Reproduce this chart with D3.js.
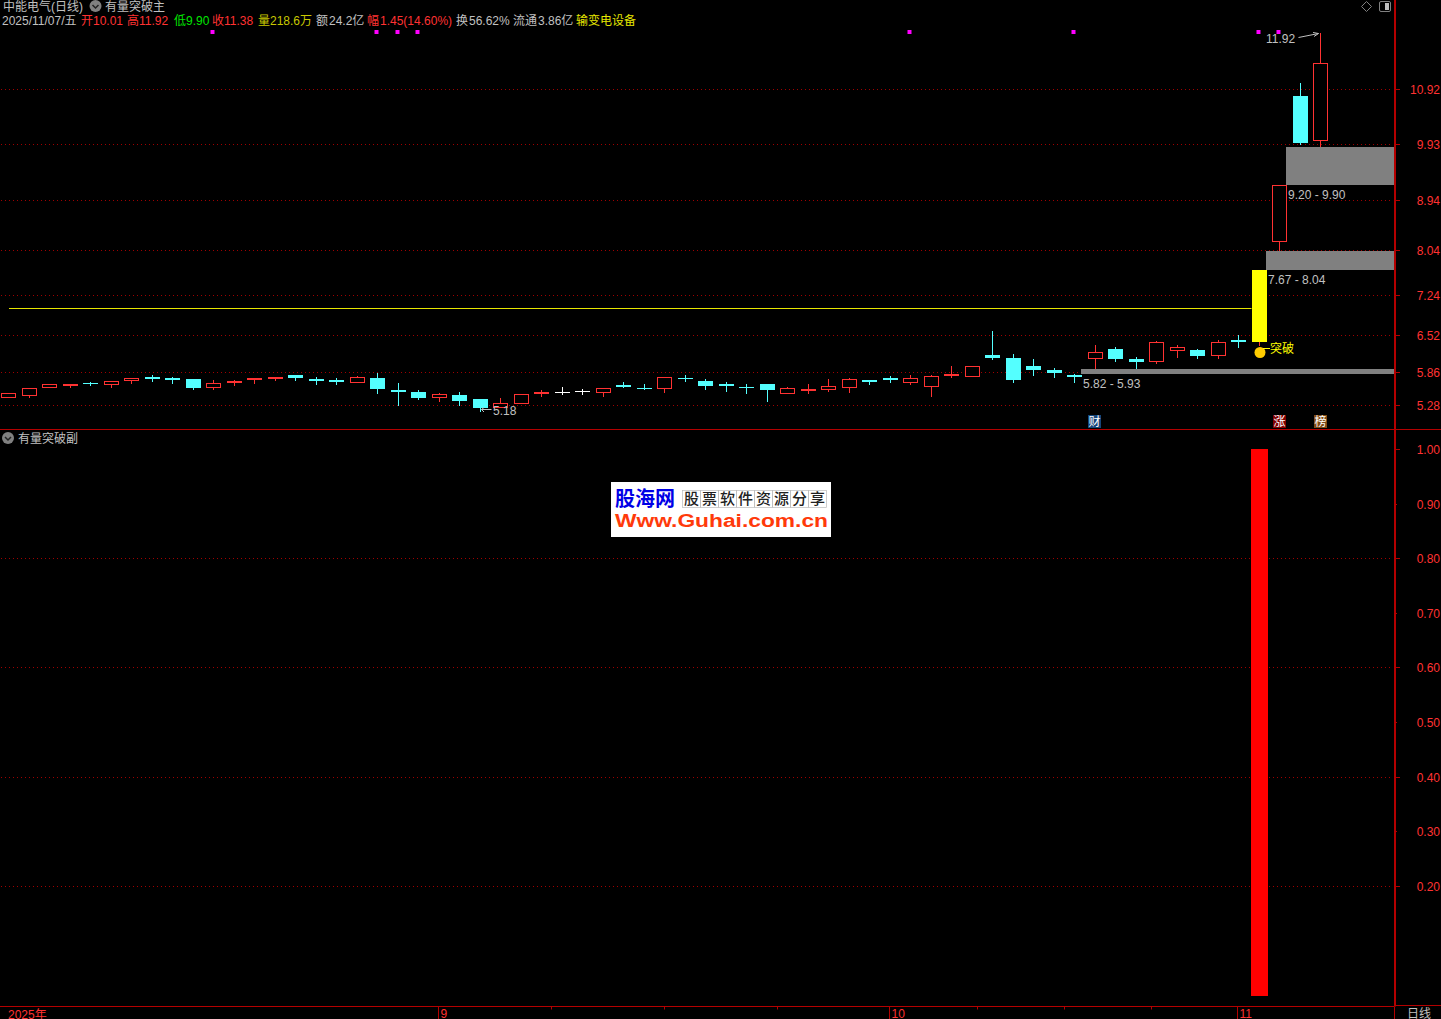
<!DOCTYPE html>
<html>
<head>
<meta charset="utf-8">
<title>中能电气(日线)</title>
<script src="https://cdn.jsdelivr.net/npm/d3@7"></script>
<style>
  html, body { margin: 0; padding: 0; background: #000; overflow: hidden; }
  text { font-family: "Liberation Sans", "Noto Sans CJK SC", sans-serif; font-size: 12px; }
</style>
</head>
<body>
<div id="chart"></div>
<script>
// 日线 K 线,价格读自图上
const opens = [5.42,5.46,5.60,5.64,5.67,5.66,5.73,5.78,5.76,5.75,5.60,5.69,5.75,5.76,5.82,5.75,5.73,5.69,5.76,5.55,5.51,5.42,5.46,5.39,5.25,5.32,5.49,5.51,5.53,5.51,5.64,5.58,5.58,5.76,5.71,5.66,5.60,5.66,5.49,5.55,5.57,5.60,5.73,5.76,5.69,5.62,5.82,5.80,6.17,6.12,5.98,5.91,5.82,6.12,6.28,6.10,6.07,6.26,6.26,6.17,6.44,6.42,8.20,10.80,10.01];
const highs = [5.49,5.58,5.66,5.66,5.69,5.71,5.76,5.82,5.78,5.75,5.73,5.73,5.76,5.78,5.82,5.78,5.76,5.80,5.85,5.67,5.55,5.49,5.51,5.39,5.41,5.48,5.55,5.60,5.57,5.58,5.69,5.66,5.78,5.82,5.75,5.69,5.66,5.66,5.60,5.66,5.75,5.76,5.73,5.80,5.82,5.82,5.98,5.98,6.59,6.19,6.09,5.94,5.83,6.35,6.32,6.14,6.42,6.34,6.28,6.44,6.53,7.69,9.20,11.02,11.92];
const lows = [5.42,5.42,5.60,5.60,5.64,5.60,5.67,5.71,5.67,5.57,5.57,5.64,5.67,5.73,5.73,5.66,5.66,5.69,5.49,5.28,5.39,5.35,5.28,5.18,5.25,5.32,5.44,5.48,5.48,5.44,5.60,5.57,5.51,5.71,5.57,5.53,5.49,5.35,5.49,5.49,5.53,5.51,5.66,5.69,5.66,5.44,5.78,5.80,6.09,5.69,5.82,5.78,5.69,5.94,6.07,5.94,6.03,6.14,6.12,6.12,6.32,6.35,8.04,9.93,9.90];
const closes = [5.49,5.58,5.66,5.66,5.66,5.71,5.76,5.75,5.73,5.58,5.67,5.71,5.76,5.78,5.76,5.71,5.69,5.78,5.57,5.51,5.41,5.48,5.35,5.23,5.32,5.48,5.51,5.51,5.53,5.58,5.60,5.57,5.78,5.75,5.62,5.62,5.58,5.55,5.58,5.57,5.62,5.75,5.69,5.73,5.76,5.80,5.83,5.98,6.12,5.73,5.91,5.85,5.78,6.23,6.09,6.05,6.41,6.32,6.16,6.41,6.41,7.69,9.20,9.95,11.38];

const priceTicks = [10.92, 9.93, 8.94, 8.04, 7.24, 6.52, 5.86, 5.28];
const subTicks = [1.00, 0.90, 0.80, 0.70, 0.60, 0.50, 0.40, 0.30, 0.20];
const subGridTicks = [0.80, 0.60, 0.40, 0.20];

// 缺口区间:起始K线序号, 下沿, 上沿, 文字
const zoneStarts = [53, 62, 63];
const zoneLows = [5.83, 7.69, 9.20];
const zoneHighs = [5.92, 8.03, 9.88];
const zoneLabels = ['5.82 - 5.93', '7.67 - 8.04', '9.20 - 9.90'];

const signalBars = [10, 18, 19, 20, 44, 52, 61, 62];  // 顶部紫点
const breakoutBar = 61;
const resistancePrice = 7.01;
const subValues = [1];                                // 副图红柱
const subBars = [61];

const monthTicks = [21, 43, 60];
const monthLabels = ['9', '10', '11'];
const weekTicks = [26.5, 32, 37.5, 47.25, 51.5, 55.75];

const RED = '#ff3232', CYAN = '#54ffff', GRID = '#a00000', LINE = '#b40000', GRAY = '#c0c0c0', YELLOW = '#ffff00';
const width = 1441, height = 1019;
const axisX = 1394.5, mainBottom = 429.5, subBottom = 1006.5;

const x = d3.scaleLinear().domain([0, 64]).range([8, 1320]);
const y = d3.scaleLinear().domain([5.28, 10.92]).range([404.5, 88.38]);
const ySub = d3.scaleLinear().domain([0, 1]).range([995.5, 449.5]);
const px = v => Math.round(y(v) + 0.4);
const pxSub = v => Math.floor(ySub(v));

const svg = d3.select('#chart').append('svg')
  .attr('width', width).attr('height', height)
  .style('display', 'block').style('background', '#000');

// 网格虚线
function drawGrid(ticks, toRow) {
  svg.append('g').selectAll('line').data(ticks).join('line')
    .attr('x1', 1).attr('x2', 1391)
    .attr('y1', d => toRow(d) + 0.5).attr('y2', d => toRow(d) + 0.5)
    .attr('stroke', GRID).attr('stroke-dasharray', '1,3');
}
drawGrid(priceTicks, px);
drawGrid(subGridTicks, pxSub);

// 缺口区间
zoneStarts.forEach((start, i) => {
  const left = Math.floor(x(start)) - 13;
  svg.append('rect').attr('x', left).attr('y', px(zoneHighs[i]))
    .attr('width', 1394 - left).attr('height', px(zoneLows[i]) - px(zoneHighs[i]))
    .attr('fill', '#808080');
  svg.append('text').attr('x', left + 2).attr('y', px(zoneLows[i]) + 14)
    .attr('fill', GRAY).text(zoneLabels[i]);
});

// 压力线
svg.append('line').attr('x1', x(0) + 1).attr('x2', x(breakoutBar) - 7)
  .attr('y1', px(resistancePrice) + 0.5).attr('y2', px(resistancePrice) + 0.5)
  .attr('stroke', '#e6e600');

// K线
opens.forEach((o, i) => {
  const c = closes[i];
  const cx = Math.round(x(i));
  const color = c > o ? RED : (c < o ? CYAN : '#ffffff');
  const top = px(Math.max(o, c)), bottom = px(Math.min(o, c));
  const g = svg.append('g');
  g.append('line').attr('x1', cx + 0.5).attr('x2', cx + 0.5)
    .attr('y1', px(highs[i])).attr('y2', px(lows[i]) + 1).attr('stroke', color);
  if (i === breakoutBar) {
    g.append('rect').attr('x', cx - 7).attr('y', top).attr('width', 15).attr('height', bottom - top + 1)
      .attr('fill', YELLOW);
  } else if (c > o) {
    g.append('rect').attr('x', cx - 6.5).attr('y', top + 0.5).attr('width', 14).attr('height', bottom - top)
      .attr('fill', '#000').attr('stroke', RED);
  } else {
    g.append('rect').attr('x', cx - 7).attr('y', top).attr('width', 15).attr('height', Math.max(1, bottom - top))
      .attr('fill', color);
  }
});

// 顶部信号点
svg.append('g').selectAll('rect').data(signalBars).join('rect')
  .attr('x', d => Math.round(x(d)) - 2.5).attr('y', 30)
  .attr('width', 4).attr('height', 4).attr('fill', '#ff00ff');

// 突破标记
const bx = Math.round(x(breakoutBar));
svg.append('circle').attr('cx', bx + 1).attr('cy', 352.5).attr('r', 5.5).attr('fill', '#ffcc00');
svg.append('line').attr('x1', bx + 4).attr('x2', bx + 11).attr('y1', 348.5).attr('y2', 348.5).attr('stroke', YELLOW);
svg.append('text').attr('x', bx + 11).attr('y', 353).attr('fill', YELLOW).text('突破');

// 最高最低价标注
svg.append('text').attr('x', 1266).attr('y', 43).attr('fill', GRAY).text(d3.max(highs).toFixed(2));
svg.append('path').attr('d', 'M1298.5 37.5L1318.5 33.5M1313 32.5L1318.5 33.5L1314 36.5')
  .attr('fill', 'none').attr('stroke', GRAY);
svg.append('text').attr('x', 493).attr('y', 415).attr('fill', GRAY).text(d3.min(lows).toFixed(2));
svg.append('path').attr('d', 'M491.5 409.5H481.5M484 407.5L481.5 409.5L484 412')
  .attr('fill', 'none').attr('stroke', GRAY);

// 财 / 涨 / 榜 标签
const badges = [['财', 53, '#15457a'], ['涨', 62, '#800000'], ['榜', 64, '#804a14']];
badges.forEach(([t, i, bg]) => {
  const cx = Math.floor(x(i));
  svg.append('rect').attr('x', cx - 6).attr('y', 415).attr('width', 13).attr('height', 13).attr('fill', bg);
  svg.append('text').attr('x', cx + 0.5).attr('y', 426).attr('text-anchor', 'middle')
    .attr('fill', '#fff').text(t);
});

// 副图红柱
svg.append('g').selectAll('rect').data(subBars).join('rect')
  .attr('x', d => Math.round(x(d)) - 8).attr('y', (d, i) => pxSub(subValues[i]))
  .attr('width', 17).attr('height', (d, i) => Math.ceil(ySub(0)) - pxSub(subValues[i]))
  .attr('fill', '#ff0000');

// 框线
svg.append('line').attr('x1', 0).attr('x2', width).attr('y1', mainBottom).attr('y2', mainBottom).attr('stroke', LINE);
svg.append('line').attr('x1', 0).attr('x2', 1394).attr('y1', subBottom).attr('y2', subBottom).attr('stroke', LINE);
svg.append('line').attr('x1', 1394).attr('x2', width).attr('y1', subBottom - 1).attr('y2', subBottom - 1).attr('stroke', LINE);
svg.append('line').attr('x1', 1395).attr('x2', 1395).attr('y1', 0).attr('y2', subBottom).attr('stroke', LINE).attr('stroke-width', 2);
svg.append('line').attr('x1', axisX).attr('x2', axisX).attr('y1', subBottom).attr('y2', height).attr('stroke', LINE);

// 右侧坐标轴
function drawRightAxis(scale, ticks, toRow, isLong) {
  const g = svg.append('g').attr('transform', `translate(1394,0)`)
    .call(d3.axisRight(scale).tickValues(ticks).tickSize(6).tickFormat(d3.format('.2f')));
  g.select('.domain').remove();
  g.selectAll('.tick').attr('transform', d => `translate(0,${toRow(d) + 0.5})`);
  g.selectAll('.tick line').attr('stroke', LINE).attr('x2', d => isLong(d) ? 6 : 3);
  g.selectAll('.tick text').attr('x', 46).attr('y', 1).attr('text-anchor', 'end')
    .attr('fill', RED).style('font-size', '12px').style('font-family', '"Liberation Sans", sans-serif');
}
drawRightAxis(y, priceTicks, px, () => true);
drawRightAxis(ySub, subTicks, pxSub, d => d === 1 || subGridTicks.includes(d));

// 底部时间轴
const timeAxis = svg.append('g').attr('transform', `translate(0,${subBottom})`)
  .call(d3.axisBottom(x).tickValues(monthTicks).tickSize(13).tickFormat((d, i) => monthLabels[i]));
timeAxis.select('.domain').remove();
timeAxis.selectAll('.tick').attr('transform', d => `translate(${Math.floor(x(d) - 0.01) + 0.5},0)`);
timeAxis.selectAll('.tick line').attr('stroke', LINE);
timeAxis.selectAll('.tick text').attr('x', 2).attr('y', 3).attr('dy', '0.71em').attr('text-anchor', 'start')
  .attr('fill', RED).style('font-size', '12px').style('font-family', '"Liberation Sans", sans-serif');
svg.append('g').selectAll('line').data(weekTicks).join('line')
  .attr('x1', d => Math.round(x(d)) + 0.5).attr('x2', d => Math.round(x(d)) + 0.5)
  .attr('y1', subBottom).attr('y2', subBottom + 3).attr('stroke', LINE);
svg.append('text').attr('x', 8).attr('y', 1019).attr('fill', RED).text('2025年');
svg.append('text').attr('x', 1407).attr('y', 1018).attr('fill', GRAY).text('日线');

// 顶部信息栏
const infoItems = [
  ['2025/11/07/五', GRAY, 2], ['开', RED, 81], ['10.01', RED, 93], ['高', RED, 127], ['11.92', RED, 139],
  ['低', '#00e600', 174], ['9.90', '#00e600', 186], ['收', RED, 212], ['11.38', RED, 224],
  ['量', '#c8c800', 258], ['218.6万', '#c8c800', 270], ['额', GRAY, 316], ['24.2亿', GRAY, 329],
  ['幅', RED, 367], ['1.45(14.60%)', RED, 380], ['换', GRAY, 456], ['56.62%', GRAY, 469],
  ['流通', GRAY, 513], ['3.86亿', GRAY, 538], ['输变电设备', '#e6e600', 576]
];
infoItems.forEach(([t, color, left]) => {
  svg.append('text').attr('x', left).attr('y', 25).attr('fill', color).text(t);
});
svg.append('text').attr('x', 3).attr('y', 11).attr('fill', GRAY).text('中能电气(日线)');
svg.append('text').attr('x', 105).attr('y', 11).attr('fill', GRAY).text('有量突破主');
svg.append('text').attr('x', 18).attr('y', 443).attr('fill', GRAY).text('有量突破副');

// 下拉小图标
[[95.5, 6], [8, 438]].forEach(([cx, cy]) => {
  svg.append('circle').attr('cx', cx).attr('cy', cy).attr('r', 6).attr('fill', '#808080');
  svg.append('path').attr('d', `M${cx - 3} ${cy - 1}L${cx} ${cy + 2}L${cx + 3} ${cy - 1}`)
    .attr('fill', 'none').attr('stroke', '#222').attr('stroke-width', 1.5);
});

// 右上角图标
svg.append('path').attr('d', 'M1366.5 1.5L1371.5 6.5L1366.5 11.5L1361.5 6.5Z').attr('fill', 'none').attr('stroke', '#808080');
svg.append('rect').attr('x', 1379.5).attr('y', 1.5).attr('width', 11).attr('height', 10).attr('rx', 1.5)
  .attr('fill', '#000').attr('stroke', '#808080');
svg.append('rect').attr('x', 1385).attr('y', 3).attr('width', 4).attr('height', 7).attr('fill', '#c0c0c0');

// 水印
const logo = svg.append('g');
logo.append('rect').attr('x', 611).attr('y', 482).attr('width', 220).attr('height', 55).attr('fill', '#fff');
logo.append('text').attr('x', 615).attr('y', 506).attr('fill', '#0000e6')
  .style('font-size', '20px').style('font-weight', 700).style('font-family', '"Noto Sans CJK SC"').text('股海网');
const logoChars = '股票软件资源分享'.split('');
logo.selectAll('rect.cell').data(logoChars).join('rect').attr('class', 'cell')
  .attr('x', (d, i) => 682.5 + i * 18).attr('y', 490.5).attr('width', 18).attr('height', 17)
  .attr('fill', 'none').attr('stroke', '#bbb').attr('stroke-width', 0.7);
logo.selectAll('text.cell').data(logoChars).join('text').attr('class', 'cell')
  .attr('x', (d, i) => 691.5 + i * 18).attr('y', 504).attr('text-anchor', 'middle').attr('fill', '#222')
  .style('font-size', '15px').style('font-weight', 500).style('font-family', '"Noto Sans CJK SC"').text(d => d);
logo.append('text').attr('x', 615).attr('y', 527).attr('fill', '#ff3a0a')
  .attr('textLength', 213).attr('lengthAdjust', 'spacingAndGlyphs')
  .style('font-size', '18px').style('font-weight', 700).style('font-family', '"Liberation Sans"').text('Www.Guhai.com.cn');
</script>
</body>
</html>
